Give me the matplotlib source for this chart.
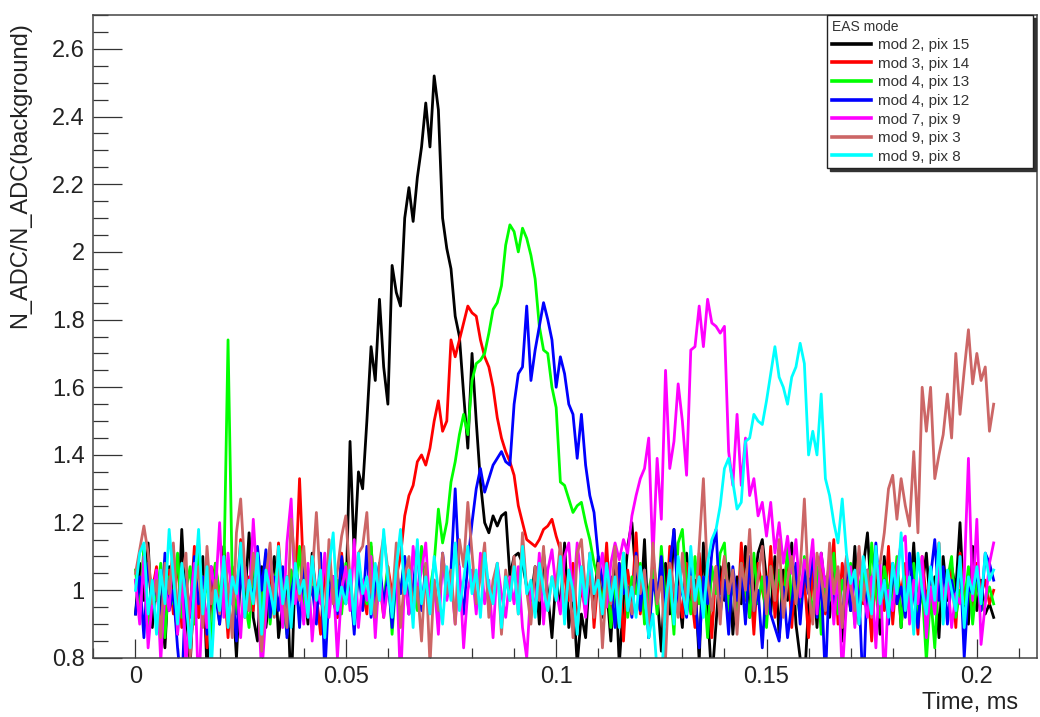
import numpy as np
import matplotlib.pyplot as plt
from matplotlib.ticker import MultipleLocator

plt.rcParams['font.family'] = ['Liberation Sans', 'DejaVu Sans']

# N_ADC / N_ADC(background) pour chaque pixel, un point toutes les ~0.001 ms
mod2_pix15 = [
    0.93, 1.08, 0.97, 1.14, 0.89, 1.04, 0.96, 0.83, 1.07, 0.99,
    0.87, 1.18, 0.94, 0.78, 1.03, 0.92, 1.10, 0.76, 1.00, 1.06,
    0.90, 1.13, 0.94, 1.01, 0.80, 1.06, 0.97, 1.17, 0.92, 0.85,
    1.07, 0.89, 1.00, 1.10, 0.86, 0.96, 1.04, 0.69, 1.08, 0.99,
    1.03, 0.90, 1.11, 0.94, 1.01, 0.86, 1.06, 0.97, 0.92, 1.08,
    0.96, 1.44, 1.10, 1.35, 1.30, 1.50, 1.72, 1.62, 1.86, 1.66,
    1.55, 1.96, 1.88, 1.84, 2.10, 2.19, 2.09, 2.22, 2.31, 2.44,
    2.31, 2.52, 2.42, 2.10, 2.01, 1.95, 1.81, 1.75, 1.58, 1.42,
    1.70, 1.50, 1.32, 1.20, 1.17, 1.22, 1.19, 1.22, 1.23, 1.04,
    1.10, 1.11, 1.08, 1.01, 0.97, 1.07, 0.90, 1.11, 0.99, 0.86,
    1.04, 0.94, 1.14, 0.89, 1.00, 0.78, 0.93, 0.86, 1.06, 0.96,
    1.10, 0.92, 1.01, 0.85, 1.07, 0.78, 0.97, 1.13, 1.20, 1.03,
    0.94, 1.15, 0.86, 1.06, 0.99, 0.82, 1.08, 0.93, 1.18, 1.00,
    0.89, 1.11, 0.96, 1.03, 0.79, 1.14, 0.94, 0.73, 0.90, 1.07,
    0.97, 1.08, 0.87, 1.04, 0.96, 1.13, 0.92, 1.01, 1.11, 1.15,
    1.03, 0.93, 1.10, 0.86, 1.06, 0.97, 1.14, 0.90, 0.80, 0.72,
    0.96, 1.07, 0.89, 1.11, 0.99, 0.92, 1.08, 1.01, 0.85, 1.04,
    0.94, 1.13, 0.90, 1.07, 1.17, 0.97, 1.03, 0.87, 1.10, 0.93,
    1.00, 1.08, 0.89, 1.06, 0.96, 1.14, 0.92, 1.01, 1.11, 0.94,
    1.04, 0.86, 1.10, 0.97, 1.07, 1.00, 1.20, 0.94, 0.90, 1.13,
    0.94, 1.03, 0.93, 0.96, 0.92]

mod3_pix14 = [
    1.03, 0.96, 1.11, 0.90, 1.00, 1.07, 0.87, 0.97, 1.06, 0.93,
    1.10, 0.89, 1.01, 0.94, 1.13, 0.92, 1.04, 0.83, 1.00, 1.08,
    0.96, 1.03, 0.86, 1.07, 0.99, 1.15, 0.92, 1.04, 0.94, 1.11,
    0.89, 1.00, 1.07, 0.93, 1.14, 0.97, 0.90, 1.06, 1.01, 1.33,
    1.03, 0.93, 1.10, 0.99, 0.87, 1.07, 0.96, 1.04, 0.92, 1.11,
    0.97, 1.01, 0.90, 1.08, 1.00, 0.93, 1.13, 0.96, 1.03, 0.92,
    1.07, 0.99, 1.04, 1.10, 1.22, 1.28, 1.31, 1.38, 1.40, 1.37,
    1.42, 1.50, 1.56, 1.47, 1.50, 1.74, 1.69, 1.74, 1.79, 1.84,
    1.82, 1.81, 1.74, 1.69, 1.66, 1.60, 1.51, 1.45, 1.41, 1.38,
    1.34, 1.25, 1.20, 1.15, 1.14, 1.13, 1.15, 1.18, 1.19, 1.21,
    1.16, 1.12, 1.04, 0.97, 1.08, 0.90, 1.01, 0.94, 1.11, 0.89,
    1.04, 0.96, 1.14, 0.92, 1.00, 1.08, 0.85, 1.06, 0.97, 1.17,
    0.93, 1.03, 0.87, 1.10, 0.99, 1.06, 0.90, 1.13, 0.96, 1.01,
    0.92, 1.08, 1.00, 0.89, 1.11, 0.94, 1.04, 0.86, 1.07, 0.99,
    1.10, 0.93, 1.03, 0.90, 1.14, 0.97, 1.06, 0.87, 1.08, 1.00,
    0.94, 1.13, 0.92, 1.04, 0.99, 1.11, 0.89, 1.07, 0.96, 1.03,
    0.86, 1.06, 0.97, 1.10, 0.93, 1.01, 1.15, 0.90, 1.08, 0.99,
    1.04, 0.92, 1.11, 0.96, 1.03, 0.85, 1.07, 1.00, 0.94, 1.13,
    0.90, 1.06, 0.99, 1.08, 0.93, 1.03, 0.87, 1.10, 0.97, 1.04,
    0.94, 1.14, 0.92, 1.01, 1.07, 0.89, 1.11, 0.96, 1.04, 0.93,
    1.08, 0.99, 1.03, 0.96, 1.00]

mod4_pix13 = [
    1.06, 0.94, 1.13, 0.89, 1.01, 0.97, 1.08, 0.86, 1.04, 0.96,
    1.11, 0.92, 1.00, 1.07, 0.90, 1.14, 0.96, 1.03, 0.83, 1.08,
    0.99, 1.04, 1.74, 1.03, 0.93, 1.10, 0.97, 0.89, 1.07, 1.00,
    0.94, 1.11, 0.90, 1.03, 1.08, 0.96, 0.87, 1.06, 0.99, 1.13,
    0.92, 1.01, 1.07, 0.94, 1.04, 0.86, 1.10, 0.97, 1.03, 0.93,
    1.08, 0.99, 0.90, 1.06, 1.01, 0.96, 1.14, 0.92, 1.03, 0.97,
    1.07, 0.87, 1.04, 0.99, 1.10, 0.93, 1.01, 0.94, 1.13, 1.00,
    1.00, 1.08, 1.24, 1.14, 1.20, 1.32, 1.38, 1.46, 1.52, 1.46,
    1.62, 1.67, 1.68, 1.70, 1.76, 1.83, 1.85, 1.90, 2.02, 2.08,
    2.06, 2.00, 2.07, 2.04, 1.99, 1.92, 1.78, 1.71, 1.70, 1.60,
    1.54, 1.32, 1.31, 1.27, 1.23, 1.25, 1.26, 1.20, 1.15, 1.08,
    1.03, 0.96, 1.07, 0.89, 1.01, 0.94, 1.11, 0.92, 1.04, 0.99,
    1.08, 0.90, 1.00, 1.06, 0.93, 1.13, 0.97, 1.03, 0.87, 1.14,
    1.18, 1.01, 0.93, 1.10, 0.96, 1.04, 0.86, 1.07, 0.99, 1.11,
    1.14, 0.94, 1.03, 0.90, 1.08, 1.00, 0.92, 1.11, 0.96, 1.04,
    0.89, 1.07, 0.99, 1.06, 0.93, 1.13, 0.97, 1.01, 0.92, 1.10,
    1.00, 0.94, 1.07, 0.87, 1.04, 0.97, 1.11, 0.93, 1.03, 0.96,
    1.08, 0.90, 1.01, 1.06, 0.94, 1.14, 0.99, 0.92, 1.07, 1.00,
    0.96, 1.10, 0.89, 1.04, 0.97, 1.08, 0.93, 1.01, 0.79, 0.99,
    0.83, 1.06, 0.94, 1.03, 1.10, 0.92, 1.00, 0.96, 1.07, 0.90,
    1.03, 0.94, 0.97, 1.01, 0.96]

mod4_pix12 = [
    0.93, 1.04, 0.86, 1.08, 0.97, 1.01, 0.90, 1.11, 0.94, 1.00,
    0.83, 0.70, 1.03, 0.92, 1.10, 0.96, 1.04, 0.87, 1.07, 0.99,
    0.90, 1.06, 0.96, 1.01, 0.85, 1.08, 0.93, 1.03, 0.97, 1.13,
    1.00, 1.12, 0.92, 1.04, 0.94, 1.07, 0.86, 0.99, 1.06, 0.89,
    1.08, 0.96, 1.01, 0.90, 1.11, 0.75, 1.00, 1.04, 0.93, 1.10,
    0.97, 1.03, 0.87, 1.07, 0.94, 1.13, 0.92, 1.00, 1.08, 0.96,
    1.04, 0.89, 1.06, 0.99, 1.10, 0.93, 1.01, 1.13, 0.94, 1.07,
    0.97, 1.03, 0.90, 1.11, 1.00, 1.06, 1.30, 1.04, 0.93, 1.08,
    1.20, 1.30, 1.36, 1.29, 1.33, 1.37, 1.39, 1.41, 1.38, 1.37,
    1.55, 1.64, 1.66, 1.84, 1.62, 1.71, 1.78, 1.85, 1.80, 1.74,
    1.60, 1.69, 1.64, 1.55, 1.52, 1.39, 1.52, 1.37, 1.28, 1.23,
    1.10, 1.03, 0.96, 1.04, 0.89, 1.08, 0.99, 1.01, 0.92, 1.11,
    0.94, 1.06, 0.86, 1.03, 0.97, 1.10, 0.90, 1.07, 1.18, 0.96,
    1.01, 0.92, 1.08, 0.99, 0.83, 1.04, 0.96, 1.11, 1.18, 0.93,
    1.03, 0.87, 1.07, 0.97, 1.06, 0.90, 1.10, 0.94, 1.00, 0.83,
    1.04, 0.93, 0.89, 0.85, 1.01, 0.86, 0.96, 1.08, 0.90, 1.06,
    0.99, 1.11, 0.92, 1.03, 0.73, 1.07, 0.96, 1.01, 0.90, 1.10,
    0.94, 1.04, 0.99, 0.69, 1.06, 0.93, 1.14, 0.97, 1.03, 0.90,
    1.08, 0.96, 1.01, 0.92, 1.11, 0.99, 0.89, 1.06, 0.94, 1.04,
    1.15, 0.97, 1.07, 0.90, 1.03, 0.96, 1.10, 0.80, 1.01, 0.99,
    1.06, 0.94, 1.11, 1.08, 1.03]

mod7_pix9 = [
    1.03, 0.90, 1.10, 0.83, 0.97, 1.06, 0.79, 1.01, 0.94, 1.13,
    0.87, 1.04, 0.78, 0.96, 1.08, 0.69, 1.00, 0.89, 1.07, 0.99,
    1.20, 0.92, 1.11, 0.96, 1.04, 0.86, 1.07, 0.94, 1.21, 1.01,
    0.75, 0.93, 1.10, 0.99, 1.06, 0.89, 1.14, 1.27, 0.96, 1.03,
    0.90, 1.08, 0.85, 1.01, 0.96, 1.11, 0.92, 1.04, 0.80, 1.00,
    1.07, 0.94, 1.15, 0.89, 1.03, 0.97, 1.10, 0.86, 1.06, 0.92,
    1.01, 0.96, 1.08, 0.72, 1.04, 0.93, 1.13, 0.99, 1.06, 1.14,
    0.94, 1.03, 0.87, 1.10, 0.97, 1.04, 0.90, 1.07, 0.83, 1.00,
    1.06, 0.93, 1.11, 0.96, 1.03, 0.86, 1.08, 0.99, 0.92, 1.04,
    0.96, 1.07, 0.89, 0.80, 1.01, 0.94, 1.11, 0.90, 1.06, 1.12,
    1.00, 0.93, 1.10, 1.14, 0.97, 1.14, 1.03, 0.92, 1.08, 0.99,
    1.04, 1.11, 0.95, 1.08, 1.14, 1.09, 1.15, 1.11, 1.22, 1.28,
    1.33, 1.36, 1.45, 1.09, 1.39, 1.21, 1.65, 1.36, 1.44, 1.61,
    1.50, 1.34, 1.71, 1.72, 1.84, 1.72, 1.86, 1.79, 1.78, 1.76,
    1.78, 1.41, 1.31, 1.52, 1.31, 1.45, 1.28, 1.33, 1.22, 1.26,
    1.16, 1.26, 1.11, 1.20, 1.08, 1.16, 1.05, 1.15, 0.98, 1.09,
    1.04, 1.15, 0.93, 1.11, 1.01, 1.08, 0.90, 1.06, 0.75, 0.96,
    1.07, 0.89, 1.11, 0.99, 0.92, 1.04, 0.83, 1.08, 0.72, 1.00,
    0.94, 1.06, 1.14, 1.16, 0.90, 1.03, 0.96, 1.10, 0.86, 1.01,
    0.93, 1.08, 0.97, 1.04, 0.89, 0.99, 0.96, 1.04, 1.39, 0.97,
    1.21, 0.84, 0.96, 1.08, 1.14]

mod9_pix3 = [
    1.05, 1.12, 1.19, 1.11, 0.96, 1.03, 0.86, 1.08, 0.99, 1.14,
    0.92, 1.04, 1.11, 0.80, 1.00, 1.07, 0.89, 1.13, 0.96, 1.03,
    0.93, 1.10, 1.01, 0.86, 1.17, 1.27, 1.06, 0.94, 1.11, 0.99,
    0.82, 1.04, 1.14, 0.92, 1.08, 1.00, 0.89, 1.21, 1.07, 0.97,
    1.13, 0.94, 1.04, 1.23, 1.01, 0.90, 1.15, 0.96, 1.06, 1.16,
    1.22, 1.03, 0.93, 1.11, 1.13, 1.23, 1.00, 0.92, 1.08, 1.16,
    1.06, 0.96, 1.14, 0.89, 1.04, 1.10, 0.93, 1.01, 0.85, 1.08,
    0.78, 1.03, 0.94, 1.11, 0.99, 1.06, 0.90, 1.15, 1.07, 1.26,
    1.11, 0.96, 1.04, 1.14, 0.92, 1.03, 1.08, 0.87, 1.06, 0.97,
    1.10, 0.93, 1.17, 1.00, 0.90, 1.07, 0.97, 1.13, 0.94, 1.04,
    1.01, 1.14, 0.94, 1.06, 0.86, 1.11, 1.15, 0.99, 1.04, 0.92,
    1.08, 0.83, 1.03, 0.96, 1.13, 0.90, 1.07, 1.00, 0.93, 1.10,
    0.99, 1.06, 0.89, 1.14, 0.96, 1.04, 0.80, 1.08, 1.01, 0.92,
    1.11, 0.96, 1.04, 0.93, 1.13, 1.33, 1.03, 0.94, 1.07, 0.90,
    1.10, 0.99, 1.06, 0.87, 1.08, 1.00, 1.18, 0.94, 1.04, 1.13,
    0.93, 1.07, 0.97, 1.15, 0.92, 1.03, 1.10, 0.96, 1.06, 1.27,
    1.00, 0.90, 1.11, 1.04, 0.94, 1.14, 0.99, 1.07, 0.89, 1.10,
    1.01, 0.94, 1.13, 0.97, 1.06, 0.92, 1.08, 1.08, 1.17, 1.30,
    1.34, 1.21, 1.33, 1.25, 1.19, 1.41, 1.17, 1.60, 1.47, 1.60,
    1.33, 1.40, 1.46, 1.58, 1.45, 1.70, 1.52, 1.65, 1.77, 1.61,
    1.70, 1.62, 1.66, 1.47, 1.55]

mod9_pix8 = [
    1.00, 1.11, 1.14, 0.93, 1.03, 0.87, 1.06, 0.96, 1.18, 1.04,
    0.90, 1.08, 0.97, 0.83, 1.01, 1.18, 0.93, 1.07, 0.76, 1.00,
    0.94, 1.10, 0.89, 1.04, 0.99, 1.14, 0.92, 1.03, 0.96, 1.11,
    0.87, 1.06, 1.00, 0.93, 1.13, 0.96, 1.04, 0.89, 1.08, 0.99,
    1.03, 0.92, 1.10, 0.97, 1.06, 0.86, 1.07, 1.17, 0.94, 1.01,
    0.96, 1.06, 0.90, 1.11, 0.99, 1.04, 0.93, 1.08, 0.97, 1.18,
    1.03, 0.92, 1.07, 1.18, 0.99, 1.06, 0.89, 1.15, 0.96, 1.04,
    0.93, 1.10, 1.00, 0.90, 1.07, 0.97, 1.14, 0.94, 1.03, 1.13,
    0.99, 1.06, 0.92, 1.11, 1.01, 0.96, 1.08, 0.89, 1.04, 0.97,
    1.07, 0.93, 1.13, 0.99, 1.03, 0.92, 1.08, 1.00, 0.94, 1.04,
    0.97, 1.10, 0.90, 1.06, 1.00, 0.87, 1.07, 0.96, 1.11, 0.99,
    1.03, 0.93, 1.08, 0.97, 1.04, 0.89, 1.11, 0.94, 1.01, 0.92,
    1.07, 0.99, 0.86, 0.93, 0.76, 0.72, 0.96, 1.06, 0.90, 1.10,
    1.00, 0.93, 1.13, 0.97, 1.04, 0.92, 1.08, 1.15, 1.18, 1.25,
    1.36, 1.39, 1.32, 1.24, 1.26, 1.44, 1.45, 1.52, 1.50, 1.49,
    1.56, 1.64, 1.72, 1.63, 1.60, 1.55, 1.63, 1.66, 1.73, 1.67,
    1.40, 1.47, 1.40, 1.58, 1.33, 1.28, 1.20, 1.14, 1.27, 1.11,
    1.02, 1.06, 0.90, 1.10, 1.00, 0.93, 1.13, 0.96, 1.03, 0.92,
    1.08, 0.99, 1.17, 0.94, 1.04, 0.87, 1.11, 1.00, 0.93, 1.07,
    0.97, 1.14, 0.90, 1.06, 1.00, 0.94, 1.10, 0.89, 1.04, 0.99,
    1.07, 0.96, 1.11, 1.03, 1.06]

series = [mod2_pix15, mod3_pix14, mod4_pix13, mod4_pix12, mod7_pix9, mod9_pix3, mod9_pix8]
labels = ['mod 2, pix 15', 'mod 3, pix 14', 'mod 4, pix 13', 'mod 4, pix 12',
          'mod 7, pix 9', 'mod 9, pix 3', 'mod 9, pix 8']
colors = ['#000000', '#ff0000', '#00ff00', '#0000ff', '#ff00ff', '#cc6666', '#00ffff']

t_end = 0.204  # ms

xticks = [0, 0.05, 0.1, 0.15, 0.2]
xticklabels = ['0', '0.05', '0.1', '0.15', '0.2']
yticks = [0.8, 1.0, 1.2, 1.4, 1.6, 1.8, 2.0, 2.2, 2.4, 2.6]
yticklabels = ['0.8', '1', '1.2', '1.4', '1.6', '1.8', '2', '2.2', '2.4', '2.6']

W, H = 1040, 717
fig = plt.figure(figsize=(W / 100, H / 100), dpi=100)
ax = fig.add_axes([93 / W, (H - 658) / H, (1037 - 93) / W, (658 - 15) / H])

for y, lab, c in zip(series, labels, colors):
    t = np.linspace(0, t_end, len(y))
    ax.plot(t, y, color=c, lw=2.0, label=lab)

ax.set_xlim(-0.0101, 0.2143)
ax.set_ylim(0.8, 2.70)

ax.set_xticks(xticks)
ax.set_xticklabels(xticklabels)
ax.set_yticks(yticks)
ax.set_yticklabels(yticklabels)
ax.xaxis.set_minor_locator(MultipleLocator(0.01))
ax.yaxis.set_minor_locator(MultipleLocator(0.05))

ax.tick_params(axis='both', which='both', direction='in', colors='#333333',
               labelcolor='#222222', labelsize=17, width=0.9)
ax.tick_params(axis='y', which='major', length=21, pad=6)
ax.tick_params(axis='y', which='minor', length=11)
ax.tick_params(axis='x', which='major', length=13.5, pad=6)
ax.tick_params(axis='x', which='minor', length=7)
for s in ax.spines.values():
    s.set_color('#444444')
    s.set_linewidth(1.1)

fig.text(1018 / W, 1 - 703 / H, 'Time, ms', ha='right', va='center',
         fontsize=17, color='#222222')
fig.text(20 / W, 1 - 22 / H, 'N_ADC/N_ADC(background)', rotation=90,
         ha='center', va='top', fontsize=17, color='#222222')

leg = ax.legend(loc='upper left', bbox_to_anchor=(827 / W, 1 - 172 / H, 206 / W, 157 / H),
                bbox_transform=fig.transFigure, mode='expand', borderaxespad=0,
                title='EAS mode', title_fontsize=10, alignment='left',
                fontsize=11, frameon=True, fancybox=False, edgecolor='#222222',
                framealpha=1, handlelength=2.6, handletextpad=0.45,
                labelspacing=0.3, borderpad=0.3,
                shadow={'color': '#333333', 'alpha': 1})
leg.get_frame().set_linewidth(1.0)
for h in leg.get_lines():
    h.set_linewidth(2.6)
for txt in leg.get_texts():
    txt.set_color('#333333')
leg.get_title().set_color('#333333')

fig.savefig('out.png', dpi=100)
